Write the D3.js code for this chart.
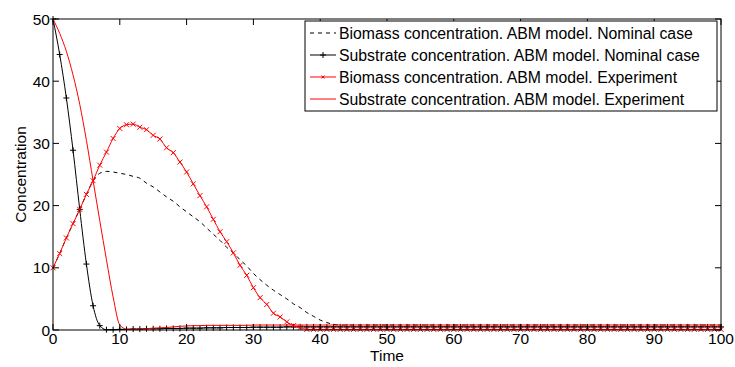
<!DOCTYPE html>
<html>
<head>
<meta charset="utf-8">
<script src="https://cdn.jsdelivr.net/npm/d3@7"></script>
<style>
  body { margin: 0; background: #fff; }
  text { font-family: "Liberation Sans", Arial, sans-serif; fill: #000; }
</style>
</head>
<body>
<script>
var width = 735, height = 367;
var margin = {top: 19, right: 14, bottom: 37, left: 53};

// time axis: one sample per time unit, 0..100
var time = d3.range(0, 101);

// Biomass concentration, ABM model, nominal case (dashed black)
var biomassNominal = [10, 12.3, 14.8, 17.1, 19.4, 21.8, 24.0, 25.2, 25.5, 25.4,
  25.2, 25.0, 24.7, 24.4, 23.6, 23.0, 22.2, 21.4, 20.7, 19.8,
  19.0, 18.2, 17.4, 16.4, 15.4, 14.4, 13.3, 12.4, 11.3, 10.3,
  9.1, 8.1, 7.2, 6.4, 5.7, 5.0, 4.2, 3.6, 2.8, 2.2,
  1.6, 1.2, 0.9, 0.8, 0.8, 0.8, 0.8, 0.8, 0.8, 0.8,
  0.8, 0.8, 0.8, 0.8, 0.8, 0.8, 0.8, 0.8, 0.8, 0.8,
  0.8, 0.8, 0.8, 0.8, 0.8, 0.8, 0.8, 0.8, 0.8, 0.8,
  0.8, 0.8, 0.8, 0.8, 0.8, 0.8, 0.8, 0.8, 0.8, 0.8,
  0.8, 0.8, 0.8, 0.8, 0.8, 0.8, 0.8, 0.8, 0.8, 0.8,
  0.8, 0.8, 0.8, 0.8, 0.8, 0.8, 0.8, 0.8, 0.8, 0.8, 0.8];

// Substrate concentration, ABM model, nominal case (black with +)
var substrateNominal = [50, 44.3, 37.3, 28.9, 19.4, 10.6, 3.9, 0.7, 0.05, 0.05,
  0.1, 0.1, 0.15, 0.15, 0.2, 0.2, 0.2, 0.25, 0.25, 0.25,
  0.3, 0.3, 0.3, 0.35, 0.35, 0.35, 0.4, 0.4, 0.4, 0.4,
  0.45, 0.45, 0.45, 0.45, 0.45, 0.5, 0.5, 0.5, 0.5, 0.5,
  0.5, 0.5, 0.5, 0.5, 0.5, 0.5, 0.5, 0.5, 0.5, 0.5,
  0.5, 0.5, 0.5, 0.5, 0.5, 0.5, 0.5, 0.5, 0.5, 0.5,
  0.5, 0.5, 0.5, 0.5, 0.5, 0.5, 0.5, 0.5, 0.5, 0.5,
  0.5, 0.5, 0.5, 0.5, 0.5, 0.5, 0.5, 0.5, 0.5, 0.5,
  0.5, 0.5, 0.5, 0.5, 0.5, 0.5, 0.5, 0.5, 0.5, 0.5,
  0.5, 0.5, 0.5, 0.5, 0.5, 0.5, 0.5, 0.5, 0.5, 0.5, 0.5];

// Biomass concentration, ABM model, experiment (red with x)
var biomassExperiment = [10, 12.3, 14.8, 17.1, 19.4, 21.8, 24.0, 26.5, 28.6, 30.8,
  32.4, 33.0, 33.1, 32.6, 32.2, 31.3, 30.7, 29.3, 28.5, 27.0,
  25.4, 23.5, 21.6, 19.8, 17.8, 15.8, 14.2, 12.4, 10.4, 8.8,
  6.8, 5.2, 4.1, 2.7, 2.1, 1.3, 0.7, 0.4, 0.1, 0.1,
  0.1, 0.1, 0.1, 0.1, 0.1, 0.1, 0.1, 0.1, 0.1, 0.1,
  0.1, 0.1, 0.1, 0.1, 0.1, 0.1, 0.1, 0.1, 0.1, 0.1,
  0.1, 0.1, 0.1, 0.1, 0.1, 0.1, 0.1, 0.1, 0.1, 0.1,
  0.1, 0.1, 0.1, 0.1, 0.1, 0.1, 0.1, 0.1, 0.1, 0.1,
  0.1, 0.1, 0.1, 0.1, 0.1, 0.1, 0.1, 0.1, 0.1, 0.1,
  0.1, 0.1, 0.1, 0.1, 0.1, 0.1, 0.1, 0.1, 0.1, 0.1, 0.1];

// Substrate concentration, ABM model, experiment (solid red)
var substrateExperiment = [50, 47.7, 44.8, 41.0, 36.3, 30.5, 24.0, 17.6, 11.3, 5.3,
  0.8, 0.15, 0.1, 0.15, 0.2, 0.3, 0.35, 0.4, 0.5, 0.6,
  0.65, 0.7, 0.7, 0.75, 0.75, 0.75, 0.75, 0.75, 0.75, 0.75,
  0.8, 0.8, 0.8, 0.8, 0.8, 0.8, 0.8, 0.8, 0.8, 0.8,
  0.8, 0.8, 0.8, 0.8, 0.8, 0.8, 0.8, 0.8, 0.8, 0.8,
  0.8, 0.8, 0.8, 0.8, 0.8, 0.8, 0.8, 0.8, 0.8, 0.8,
  0.8, 0.8, 0.8, 0.8, 0.8, 0.8, 0.8, 0.8, 0.8, 0.8,
  0.8, 0.8, 0.8, 0.8, 0.8, 0.8, 0.8, 0.8, 0.8, 0.8,
  0.8, 0.8, 0.8, 0.8, 0.8, 0.8, 0.8, 0.8, 0.8, 0.8,
  0.8, 0.8, 0.8, 0.8, 0.8, 0.8, 0.8, 0.8, 0.8, 0.8, 0.8];

var xTicks = [0, 10, 20, 30, 40, 50, 60, 70, 80, 90, 100];
var yTicks = [0, 10, 20, 30, 40, 50];

var legendLabels = [
  "Biomass concentration. ABM model. Nominal case",
  "Substrate concentration. ABM model. Nominal case",
  "Biomass concentration. ABM model. Experiment",
  "Substrate concentration. ABM model. Experiment"
];

var svg = d3.select("body").append("svg")
    .attr("width", width)
    .attr("height", height);

var x = d3.scaleLinear().domain([0, 100]).range([margin.left, width - margin.right]);
var y = d3.scaleLinear().domain([0, 50]).range([height - margin.bottom, margin.top]);

// series descriptions (style only)
var series = [
  {values: biomassNominal, color: "#000", dash: "4,4", marker: null},
  {values: substrateNominal, color: "#000", dash: null, marker: "plus"},
  {values: biomassExperiment, color: "#f00", dash: null, marker: "cross"},
  {values: substrateExperiment, color: "#f00", dash: null, marker: null}
];

var line = d3.line()
    .curve(d3.curveMonotoneX)
    .x(function(d) { return x(d[0]); })
    .y(function(d) { return y(d[1]); });

var plot = svg.append("g");

function drawMarker(g, type, cx, cy, color, s) {
  if (type == "plus") {
    g.append("path")
      .attr("d", "M" + (cx - s) + "," + cy + "H" + (cx + s) + "M" + cx + "," + (cy - s) + "V" + (cy + s))
      .attr("stroke", color).attr("stroke-width", 1).attr("fill", "none");
  } else if (type == "cross") {
    g.append("path")
      .attr("d", "M" + (cx - s) + "," + (cy - s) + "L" + (cx + s) + "," + (cy + s) +
                 "M" + (cx - s) + "," + (cy + s) + "L" + (cx + s) + "," + (cy - s))
      .attr("stroke", color).attr("stroke-width", 1).attr("fill", "none");
  }
}

series.forEach(function(s) {
  var pts = time.map(function(t, i) { return [t, s.values[i]]; });
  plot.append("path")
      .datum(pts)
      .attr("fill", "none")
      .attr("stroke", s.color)
      .attr("stroke-width", 1)
      .attr("stroke-dasharray", s.dash)
      .attr("d", line);
  if (s.marker) {
    var mg = plot.append("g");
    pts.forEach(function(p) {
      drawMarker(mg, s.marker, x(p[0]), y(p[1]), s.color, s.marker == "plus" ? 3 : 2.5);
    });
  }
});

// axes box with inward ticks, MATLAB style
var axes = svg.append("g");
axes.append("rect")
    .attr("x", x(0)).attr("y", y(50))
    .attr("width", x(100) - x(0)).attr("height", y(0) - y(50))
    .attr("fill", "none").attr("stroke", "#000").attr("stroke-width", 1);

var tickLen = 6;
xTicks.forEach(function(t) {
  axes.append("line").attr("x1", x(t)).attr("x2", x(t))
      .attr("y1", y(0)).attr("y2", y(0) - tickLen).attr("stroke", "#000");
  axes.append("line").attr("x1", x(t)).attr("x2", x(t))
      .attr("y1", y(50)).attr("y2", y(50) + tickLen).attr("stroke", "#000");
  axes.append("text").attr("x", x(t)).attr("y", y(0) + 14)
      .attr("text-anchor", "middle").attr("font-size", 15.5).text(t);
});
yTicks.forEach(function(v) {
  axes.append("line").attr("x1", x(0)).attr("x2", x(0) + tickLen)
      .attr("y1", y(v)).attr("y2", y(v)).attr("stroke", "#000");
  axes.append("line").attr("x1", x(100)).attr("x2", x(100) - tickLen)
      .attr("y1", y(v)).attr("y2", y(v)).attr("stroke", "#000");
  axes.append("text").attr("x", x(0) - 3).attr("y", y(v) + 5.5)
      .attr("text-anchor", "end").attr("font-size", 15.5).text(v);
});

svg.append("text")
    .attr("x", (x(0) + x(100)) / 2).attr("y", 361)
    .attr("text-anchor", "middle").attr("font-size", 15.5).text("Time");
svg.append("text")
    .attr("transform", "translate(26," + ((y(0) + y(50)) / 2) + ") rotate(-90)")
    .attr("text-anchor", "middle").attr("font-size", 15.5).text("Concentration");

// legend
var legend = svg.append("g");
legend.append("rect")
    .attr("x", 305).attr("y", 21).attr("width", 412).attr("height", 90)
    .attr("fill", "#fff").attr("stroke", "#000").attr("stroke-width", 1);
legendLabels.forEach(function(lbl, i) {
  var ly = 33 + i * 22;
  var s = series[i];
  legend.append("line")
      .attr("x1", 310).attr("x2", 336).attr("y1", ly).attr("y2", ly)
      .attr("stroke", s.color).attr("stroke-width", 1)
      .attr("stroke-dasharray", s.dash);
  if (s.marker) drawMarker(legend, s.marker, 323, ly, s.color, s.marker == "plus" ? 3 : 1.5);
  legend.append("text")
      .attr("x", 339).attr("y", ly + 5.5)
      .attr("font-size", 15.8).text(lbl);
});
</script>
</body>
</html>
